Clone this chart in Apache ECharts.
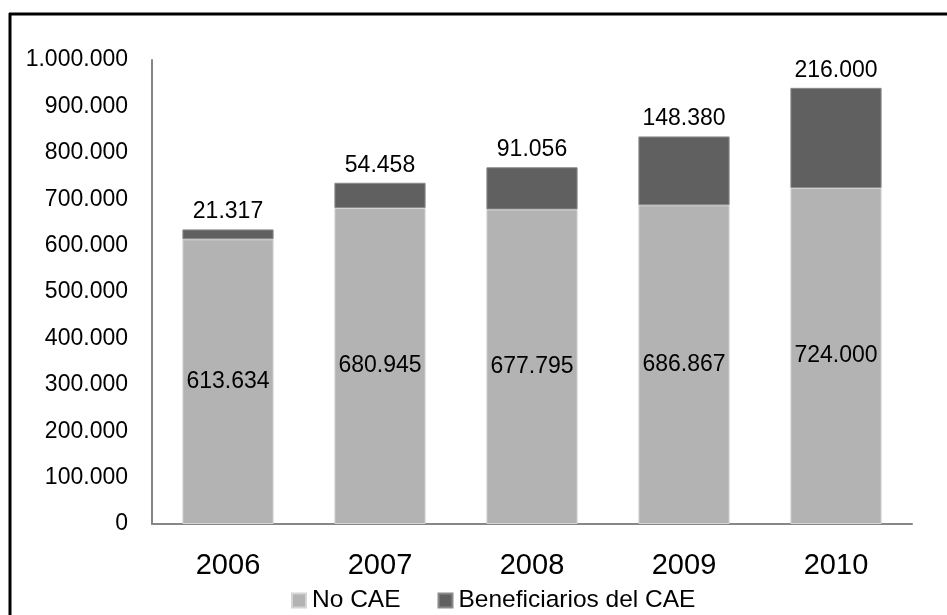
<!DOCTYPE html>
<html>
<head>
<meta charset="utf-8">
<script src="https://cdn.jsdelivr.net/npm/echarts@6/dist/echarts.min.js"></script>
<style>
html,body{margin:0;padding:0;background:#fff;}
#chart{width:947px;height:615px;}
</style>
</head>
<body>
<div id="chart"></div>
<script>
const categories = ['2006', '2007', '2008', '2009', '2010'];
const noCae = [613634, 680945, 677795, 686867, 724000];
const beneficiarios = [21317, 54458, 91056, 148380, 216000];
const seriesNames = ['No CAE', 'Beneficiarios del CAE'];

function fmt(v) {
  return String(Math.round(v)).replace(/\B(?=(\d{3})+(?!\d))/g, '.');
}

const chart = echarts.init(document.getElementById('chart'));
const font = 'Liberation Sans, Arial, sans-serif';
chart.setOption({
  animation: false,
  textStyle: { fontFamily: font },
  grid: { left: 152, right: 35, top: 60, bottom: 91, containLabel: false },
  legend: {
    data: seriesNames,
    top: 588,
    left: 291,
    itemWidth: 14,
    itemHeight: 14,
    itemGap: 37,
    padding: 0,
    icon: 'rect',
    textStyle: { fontSize: 24.5, lineHeight: 24, color: '#000', fontFamily: font, padding: [0, 0, 0, 1] }
  },
  xAxis: {
    type: 'category',
    data: categories,
    axisLine: { lineStyle: { color: '#868686', width: 2 } },
    axisTick: { show: false },
    axisLabel: { fontSize: 29, color: '#000', margin: 27, fontFamily: font }
  },
  yAxis: {
    type: 'value',
    min: 0,
    max: 1000000,
    interval: 100000,
    axisLine: { show: true, lineStyle: { color: '#868686', width: 2 } },
    axisTick: { show: false },
    splitLine: { show: false },
    axisLabel: { fontSize: 23, color: '#000', margin: 24, formatter: fmt, fontFamily: font }
  },
  graphic: [
    { type: 'line', shape: { x1: 10, y1: 13, x2: 10, y2: 615 }, style: { stroke: '#000', lineWidth: 3 } },
    { type: 'line', shape: { x1: 9, y1: 14, x2: 947, y2: 14 }, style: { stroke: '#000', lineWidth: 3 } }
  ],
  series: [
    {
      name: seriesNames[0],
      type: 'bar',
      stack: 'total',
      data: noCae,
      barWidth: '60%',
      itemStyle: { color: '#b3b3b3', borderColor: '#d4d4d4', borderWidth: 1 },
      label: {
        show: true,
        position: 'inside',
        fontSize: 23,
        color: '#000',
        fontFamily: font,
        formatter: p => fmt(p.value)
      }
    },
    {
      name: seriesNames[1],
      type: 'bar',
      stack: 'total',
      data: beneficiarios,
      barWidth: '60%',
      itemStyle: { color: '#606060', borderColor: '#8a8a8a', borderWidth: 1 },
      label: {
        show: true,
        position: 'top',
        distance: 6,
        fontSize: 23,
        color: '#000',
        fontFamily: font,
        formatter: p => fmt(p.value)
      }
    }
  ]
});
</script>
</body>
</html>
